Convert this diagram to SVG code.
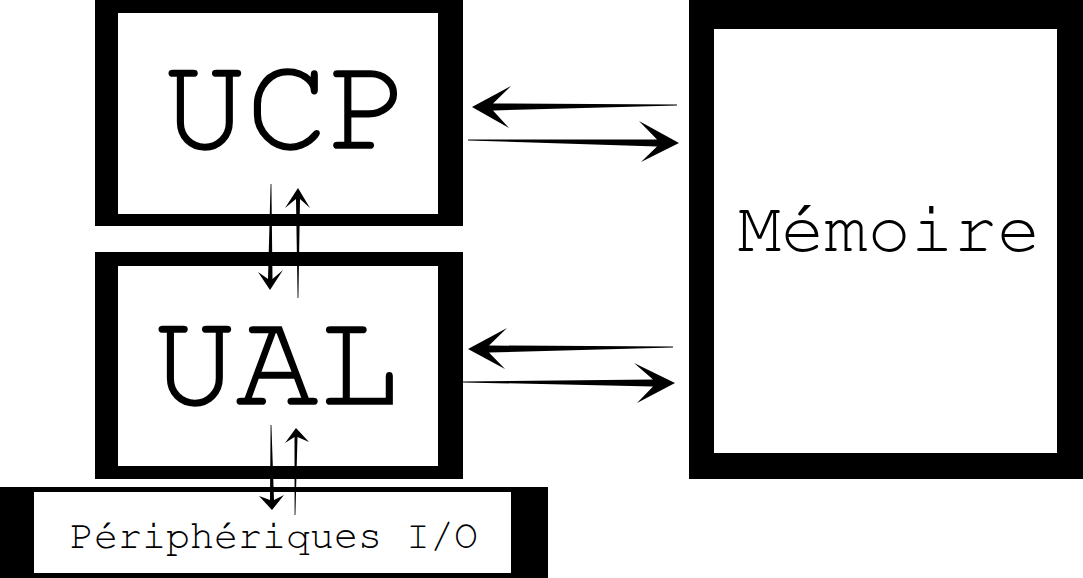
<svg xmlns="http://www.w3.org/2000/svg" width="1083" height="578" viewBox="0 0 1083 578">
<style>
.outer{fill:#000}
.inner{fill:#fff}
.lbl{font-family:"Nimbus Mono PS","FreeMono","Courier New","Liberation Mono",monospace;fill:#000;text-anchor:middle}
.big{font-size:137px;stroke:#000;stroke-width:1.5px}
.arr{fill:#000}
</style>
<rect x="0" y="0" width="1083" height="578" fill="#fff"/>
<g id="ucp">
<rect class="outer" x="95" y="0" width="368" height="226"/>
<rect class="inner" x="118" y="13" width="320" height="201"/>
<text class="lbl big" x="287" y="148">UCP</text>
</g>
<g id="ual">
<rect class="outer" x="95" y="252" width="368" height="227"/>
<rect class="inner" x="118" y="266" width="320" height="200"/>
<text class="lbl big" x="277" y="404">UAL</text>
</g>
<g id="peripheriques">
<rect class="outer" x="0" y="487" width="548" height="91"/>
<rect class="inner" x="34" y="492" width="477" height="81"/>
<text class="lbl" x="274" y="548" font-size="40">Périphériques I/O</text>
</g>
<g id="memoire">
<rect class="outer" x="689" y="0" width="394" height="479"/>
<rect class="inner" x="714" y="29" width="343" height="424"/>
<text class="lbl" x="889" y="251" font-size="72">Mémoire</text>
</g>
<g id="connectors">
<path class="arr" d="M472,107 L511,86 L493,103.5 L677,104.6 L677,105.4 L493,110.5 L509,128 Z"/>
<path class="arr" d="M679,143 L639,121 L657,139.5 L468,139.6 L468,140.4 L657,146.5 L641,162 Z"/>
<path class="arr" d="M468,349 L507,328 L489,345.5 L673,346.6 L673,347.4 L489,352.5 L505,369 Z"/>
<path class="arr" d="M675,383 L634,363 L653,379.5 L463,381.6 L463,382.4 L653,386.5 L637,403 Z"/>
<path class="arr" d="M270,290 L258,272 L268,279 L270.6,184 L271.4,184 L272.5,279 L283,270 Z"/>
<path class="arr" d="M298,188 L285,208 L296,199 L297.6,298 L298.4,298 L300,199 L310,208 Z"/>
<path class="arr" d="M272,510 L259,496 L270,500 L270.6,425 L271.4,425 L274,500 L284,495 Z"/>
<path class="arr" d="M296,428 L285,443 L294.5,437 L294.6,515 L295.4,515 L297.5,437 L309,442 Z"/>
</g>
</svg>
